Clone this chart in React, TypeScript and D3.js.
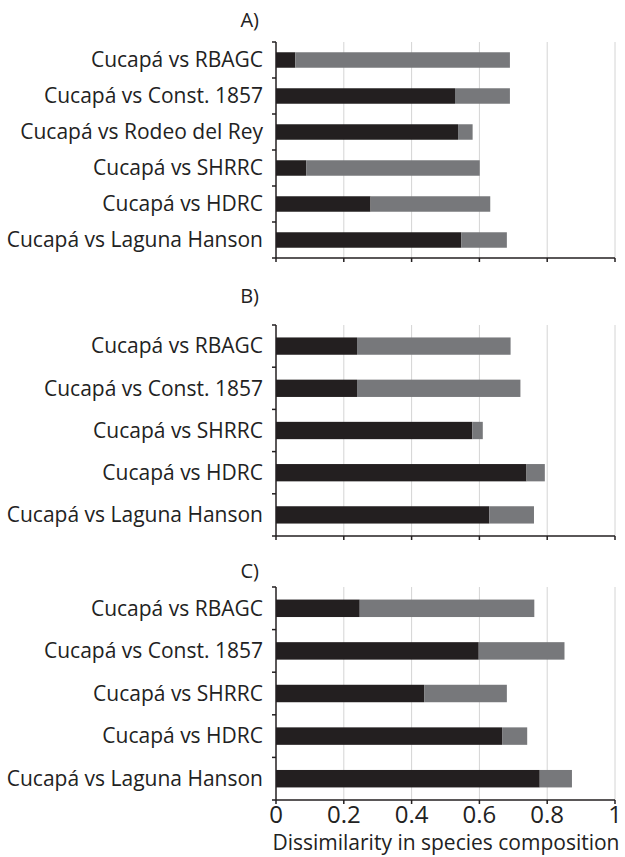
import React from "react";
import * as d3 from "d3";

const catsA = ["Cucapá vs RBAGC", "Cucapá vs Const. 1857", "Cucapá vs Rodeo del Rey", "Cucapá vs SHRRC", "Cucapá vs HDRC", "Cucapá vs Laguna Hanson"];
const blackA = [0.057, 0.528, 0.537, 0.089, 0.279, 0.547];
const totalA = [0.69, 0.69, 0.58, 0.601, 0.632, 0.681];

const catsB = ["Cucapá vs RBAGC", "Cucapá vs Const. 1857", "Cucapá vs SHRRC", "Cucapá vs HDRC", "Cucapá vs Laguna Hanson"];
const blackB = [0.239, 0.239, 0.579, 0.739, 0.629];
const totalB = [0.692, 0.721, 0.61, 0.793, 0.761];

const catsC = ["Cucapá vs RBAGC", "Cucapá vs Const. 1857", "Cucapá vs SHRRC", "Cucapá vs HDRC", "Cucapá vs Laguna Hanson"];
const blackC = [0.247, 0.598, 0.437, 0.667, 0.778];
const totalC = [0.762, 0.851, 0.681, 0.741, 0.873];

const xTicks = [0, 0.2, 0.4, 0.6, 0.8, 1];
const xTickLabels = ["0", "0.2", "0.4", "0.6", "0.8", "1"];
const panelLabels = ["A)", "B)", "C)"];

const FONT = "'Open Sans', sans-serif";
const DARK = "#231f20";
const GRAY = "#77787b";

const x = d3.scaleLinear().domain([0, 1]).range([276, 615]);

function Panel({ cats, black, total, top, bottom, label, labelY, showTicks, pad }: any) {
  const y = d3.scaleBand<string>().domain(cats).range([top, bottom]).paddingInner(pad).paddingOuter(pad / 2);
  const step = (bottom - top) / cats.length;
  const boundaries = d3.range(cats.length + 1).map((i) => top + i * step);
  return (
    <g>
      <text x={259} y={labelY} textAnchor="end" fontFamily={FONT} fontSize={20} fill="#222">{label}</text>
      {xTicks.slice(1).map((t) => (
        <line key={t} x1={x(t)} x2={x(t)} y1={top} y2={bottom} stroke="#d4d4d4" strokeWidth={1} />
      ))}
      {cats.map((c: string, i: number) => (
        <g key={c}>
          <rect x={x(0)} y={y(c)} width={x(black[i]) - x(0)} height={y.bandwidth()} fill={DARK} />
          <rect x={x(black[i])} y={y(c)} width={x(total[i]) - x(black[i])} height={y.bandwidth()} fill={GRAY} />
          <text x={263} y={(y(c) as number) + y.bandwidth() / 2} dy="0.35em" textAnchor="end" fontFamily={FONT} fontSize={21} fill="#222">{c}</text>
        </g>
      ))}
      <line x1={x(0)} x2={x(0)} y1={top} y2={bottom} stroke={DARK} strokeWidth={1.5} />
      <line x1={x(0)} x2={x(1)} y1={bottom} y2={bottom} stroke={DARK} strokeWidth={1.5} />
      {boundaries.map((b, i) => (
        <line key={i} x1={x(0) - 4} x2={x(0)} y1={b} y2={b} stroke={DARK} strokeWidth={1.5} />
      ))}
      {xTicks.map((t) => (
        <line key={t} x1={x(t)} x2={x(t)} y1={bottom} y2={bottom + 4} stroke={DARK} strokeWidth={1.5} />
      ))}
      {showTicks && xTicks.map((t, i) => (
        <text key={t} x={x(t)} y={bottom + 23} textAnchor="middle" fontFamily={FONT} fontSize={24} fill="#222">{xTickLabels[i]}</text>
      ))}
    </g>
  );
}

export default function App() {
  return (
    <svg width={625} height={857} style={{ position: "absolute", left: 0, top: 0, background: "#fff" }}>
      <rect width={625} height={857} fill="#fff" />
      <Panel cats={catsA} black={blackA} total={totalA} top={42} bottom={258} label={panelLabels[0]} labelY={27} pad={0.57} />
      <Panel cats={catsB} black={blackB} total={totalB} top={325} bottom={536} label={panelLabels[1]} labelY={303} pad={0.59} />
      <Panel cats={catsC} black={blackC} total={totalC} top={587} bottom={800} label={panelLabels[2]} labelY={578} pad={0.59} showTicks />
      <text x={446} y={850} textAnchor="middle" fontFamily={FONT} fontSize={21} fill="#222">Dissimilarity in species composition</text>
    </svg>
  );
}
